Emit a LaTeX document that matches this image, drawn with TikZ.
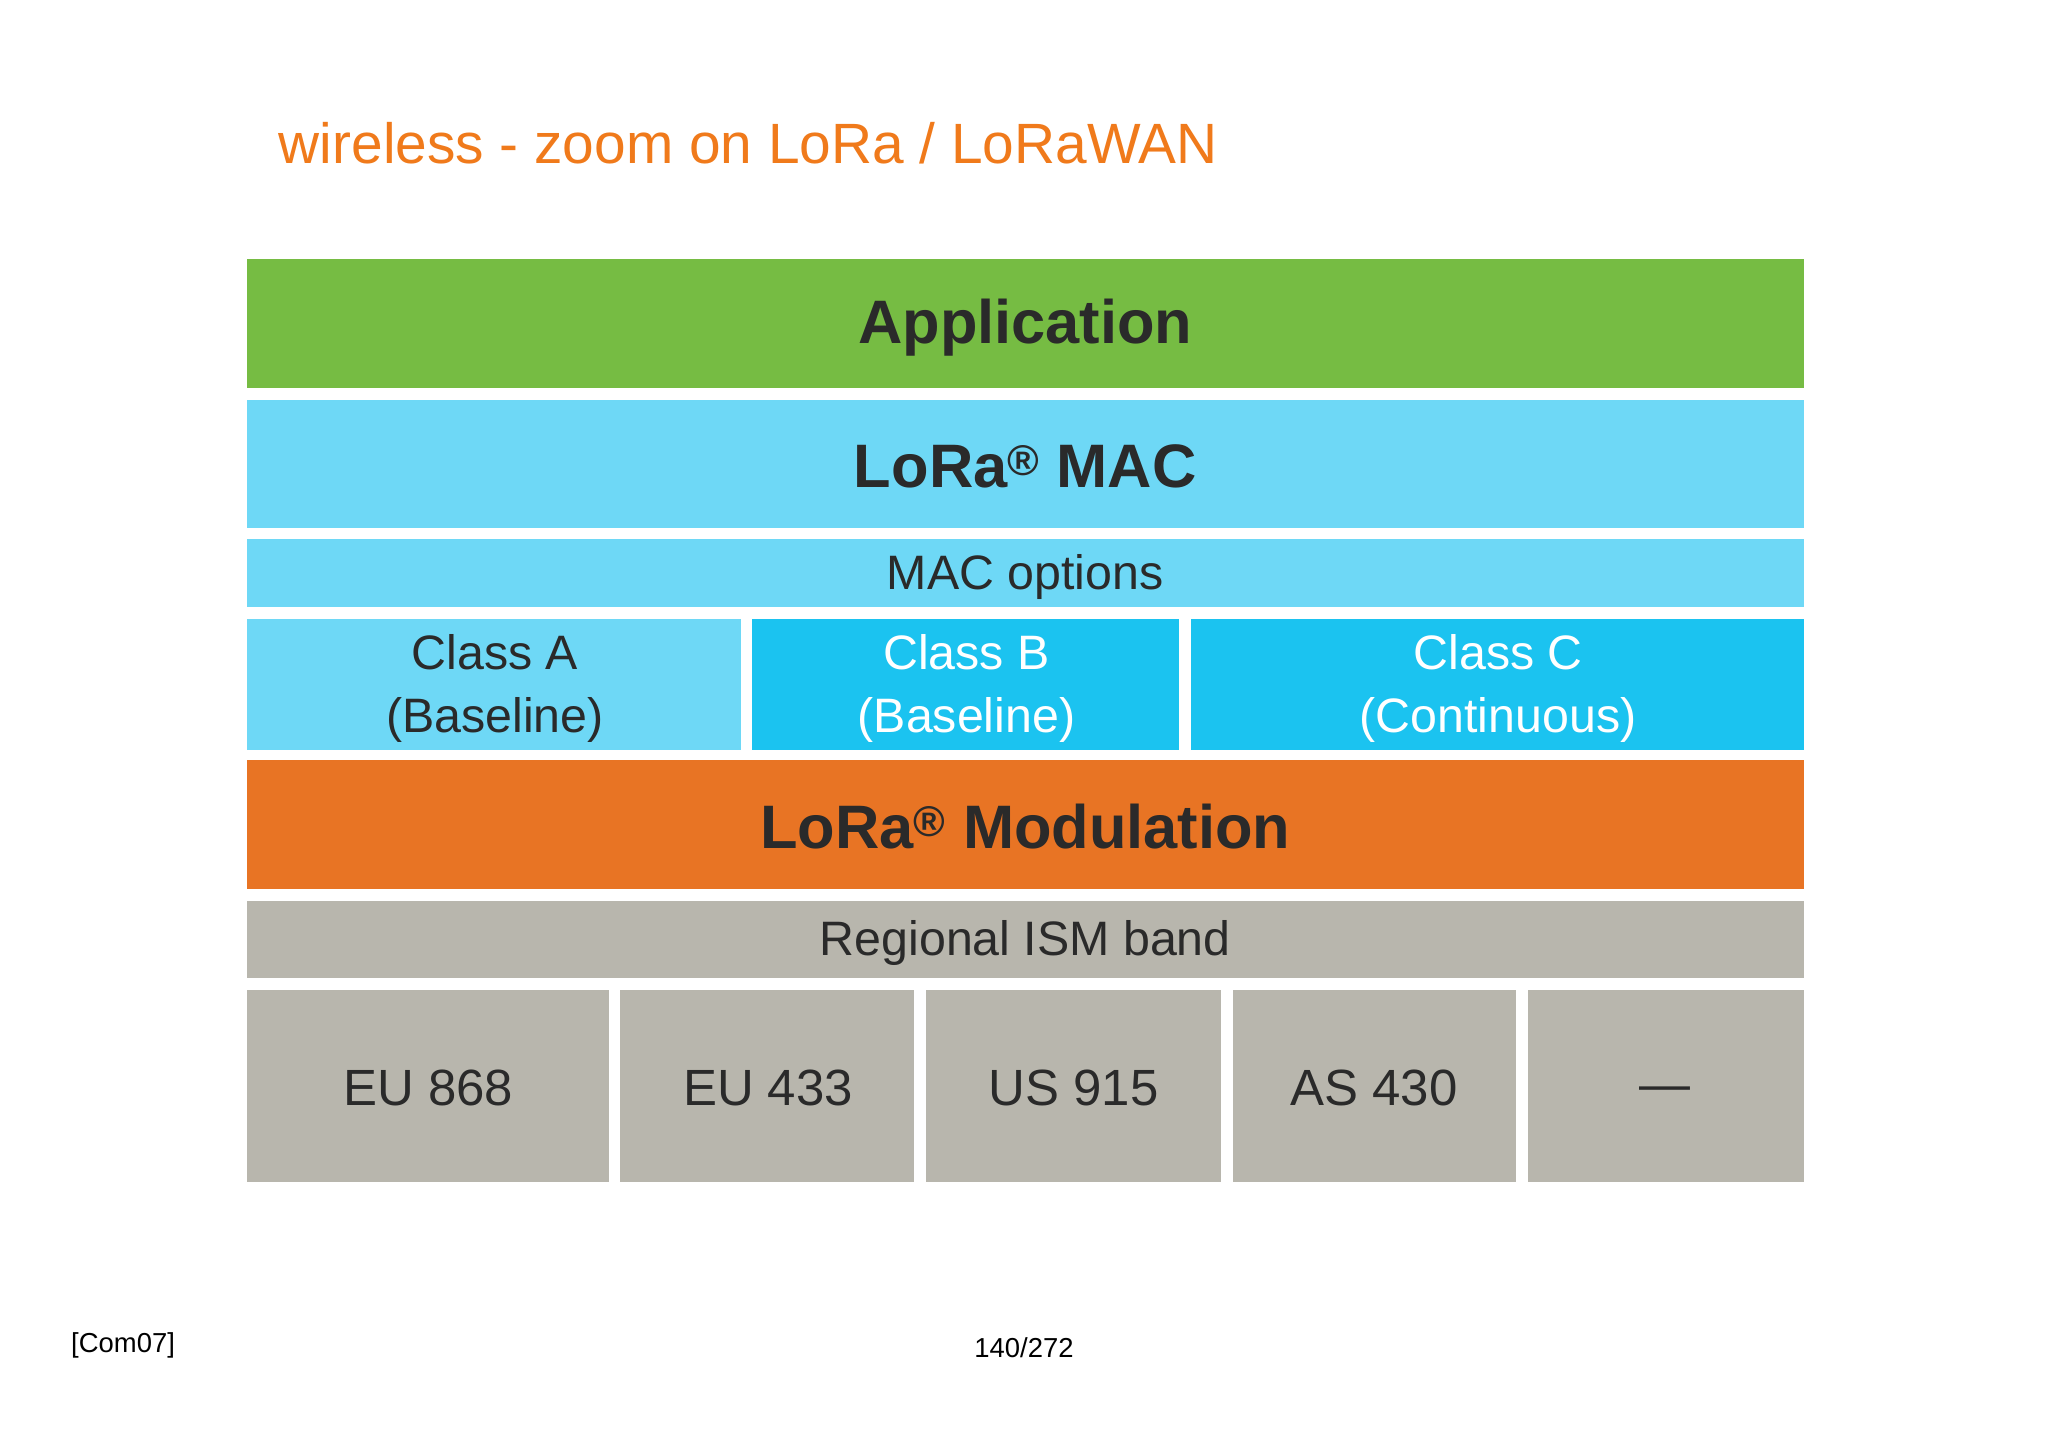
\documentclass[tikz,border=0pt]{standalone}
\usepackage{fontspec}
\setmainfont{Liberation Sans}
\definecolor{appg}{HTML}{76BC43}
\definecolor{lblue}{HTML}{6ED8F6}
\definecolor{dblue}{HTML}{1BC3F0}
\definecolor{modo}{HTML}{E87424}
\definecolor{ismg}{HTML}{B8B6AD}
\definecolor{titleo}{HTML}{F07A1B}
\definecolor{txt}{HTML}{2A2A2A}
\tikzset{lay/.style={inner sep=0pt,text=txt,align=center}}
\begin{document}
\begin{tikzpicture}[x=1pt,y=-1pt]
\useasboundingbox (0,0) rectangle (1568,1110);
\fill[white] (0,0) rectangle (1568,1110);
\node[anchor=west,text=titleo,font=\fontsize{43.5}{50}\selectfont] (title) at (210,110) {wireless - zoom on LoRa / LoRaWAN};
\fill[appg] (189,198) rectangle (1381,297);
\node[lay,font=\fontsize{47}{54}\selectfont\bfseries] (app) at (785,251) {Application};
\fill[lblue] (189,306) rectangle (1381,404);
\node[lay,font=\fontsize{47}{54}\selectfont\bfseries] (mac) at (785,357) {LoRa\textsuperscript{®} MAC};
\fill[lblue] (189,413) rectangle (1381,465);
\node[lay,font=\fontsize{37}{42}\selectfont] (opt) at (785,442) {MAC options};
\fill[lblue] (189,474) rectangle (567,574);
\node[lay,font=\fontsize{37}{48}\selectfont] (ca) at (379,527) {Class A\\(Baseline)};
\fill[dblue] (576,474) rectangle (903,574);
\node[lay,text=white,font=\fontsize{37}{48}\selectfont] (cb) at (740,527) {Class B\\(Baseline)};
\fill[dblue] (912,474) rectangle (1381,574);
\node[lay,text=white,font=\fontsize{37}{48}\selectfont] (cc) at (1147,527) {Class C\\(Continuous)};
\fill[modo] (189,582) rectangle (1381,681);
\node[lay,font=\fontsize{47}{54}\selectfont\bfseries] (mod) at (785,633) {LoRa\textsuperscript{®} Modulation};
\fill[ismg] (189,690) rectangle (1381,749);
\node[lay,font=\fontsize{37}{42}\selectfont] (ism) at (785,722) {Regional ISM band};
\fill[ismg] (189,758) rectangle (466,905);
\node[lay,font=\fontsize{39}{44}\selectfont] (b1) at (328,833) {EU 868};
\fill[ismg] (475,758) rectangle (700,905);
\node[lay,font=\fontsize{39}{44}\selectfont] (b2) at (588,833) {EU 433};
\fill[ismg] (709,758) rectangle (935,905);
\node[lay,font=\fontsize{39}{44}\selectfont] (b3) at (822,833) {US 915};
\fill[ismg] (944,758) rectangle (1161,905);
\node[lay,font=\fontsize{39}{44}\selectfont] (b4) at (1052,833) {AS 430};
\fill[ismg] (1170,758) rectangle (1381,905);
\node[lay,font=\fontsize{39}{44}\selectfont] (b5) at (1275,838) {—};
\node[anchor=west,font=\fontsize{21}{24}\selectfont] (ref) at (51,1030) {[Com07]};
\node[font=\fontsize{21}{24}\selectfont] (pg) at (784,1032) {140/272};
\end{tikzpicture}
\end{document}
